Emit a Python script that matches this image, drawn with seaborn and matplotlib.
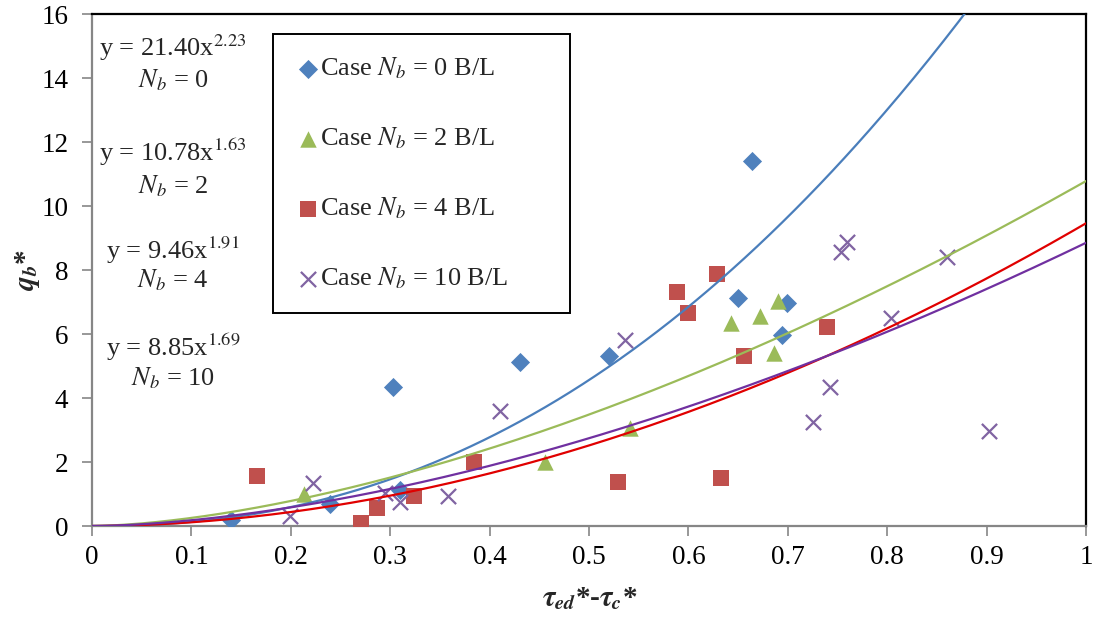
import numpy as np
import pandas as pd
import matplotlib
matplotlib.use("Agg")
import matplotlib.pyplot as plt
import seaborn as sns

# ---- data ----
x_nb0 = [0.140, 0.239, 0.303, 0.310, 0.431, 0.520, 0.650, 0.664, 0.694, 0.699]
y_nb0 = [0.19, 0.69, 4.33, 1.13, 5.14, 5.32, 7.11, 11.41, 5.97, 6.96]
x_nb2 = [0.213, 0.456, 0.541, 0.643, 0.672, 0.686, 0.690]
y_nb2 = [1.00, 2.01, 3.07, 6.35, 6.56, 5.40, 7.04]
x_nb4 = [0.166, 0.271, 0.287, 0.324, 0.384, 0.529, 0.589, 0.600, 0.629, 0.633, 0.656, 0.739]
y_nb4 = [1.57, 0.08, 0.55, 0.95, 1.99, 1.36, 7.32, 6.67, 7.88, 1.49, 5.32, 6.21]
x_nb10 = [0.199, 0.222, 0.295, 0.310, 0.358, 0.410, 0.536, 0.725, 0.742, 0.754, 0.760, 0.804, 0.860, 0.902]
y_nb10 = [0.31, 1.35, 1.04, 0.76, 0.94, 3.60, 5.81, 3.26, 4.35, 8.55, 8.88, 6.51, 8.42, 2.97]

series_labels = [r"Case $N_b$ = 0 B/L", r"Case $N_b$ = 2 B/L",
                 r"Case $N_b$ = 4 B/L", r"Case $N_b$ = 10 B/L"]
fit_coef = [21.40, 10.78, 9.46, 8.85]
fit_exp = [2.23, 1.63, 1.91, 1.69]
fit_nb = [0, 2, 4, 10]
x_ticks = [0, 0.1, 0.2, 0.3, 0.4, 0.5, 0.6, 0.7, 0.8, 0.9, 1]
x_tick_labels = ["0", "0.1", "0.2", "0.3", "0.4", "0.5", "0.6", "0.7", "0.8", "0.9", "1"]
y_ticks = [0, 2, 4, 6, 8, 10, 12, 14, 16]

# ---- style ----
sns.set_style("white")
plt.rcParams["font.family"] = ["Liberation Serif", "DejaVu Serif"]
plt.rcParams["mathtext.fontset"] = "stix"

marker_colors = ["#4F81BD", "#9BBB59", "#C0504D", "#8064A2"]
line_colors = ["#4A7EBB", "#9BBB59", "#E00000", "#7030A0"]
markers = ["D", "^", "s", "x"]
sizes = [95, 140, 140, 120]
gray = "#868686"
fs = 19

fig = plt.figure(figsize=(10.96, 6.20), dpi=100)
ax = fig.add_axes([92 / 1096, 1 - 526 / 620, (1086 - 92) / 1096, (526 - 14) / 620])

xs = [x_nb0, x_nb2, x_nb4, x_nb10]
ys = [y_nb0, y_nb2, y_nb4, y_nb10]
handles = []
for i in range(4):
    df = pd.DataFrame({"x": xs[i], "y": ys[i]})
    kw = dict(linewidth=1.6) if markers[i] == "x" else dict(linewidth=0)
    sns.scatterplot(data=df, x="x", y="y", ax=ax, marker=markers[i],
                    color=marker_colors[i], s=sizes[i], zorder=3,
                    legend=False, **kw)
    handles.append(ax.collections[-1])

# power-law trendlines given by the equations on the chart
xf = np.linspace(0, 1, 400)
for i in range(4):
    dfl = pd.DataFrame({"x": xf, "y": fit_coef[i] * xf ** fit_exp[i]})
    sns.lineplot(data=dfl, x="x", y="y", ax=ax, color=line_colors[i],
                 linewidth=1.6, zorder=4, legend=False)

ax.set_xlim(0, 1)
ax.set_ylim(0, 16)
ax.set_xticks(x_ticks)
ax.set_xticklabels(x_tick_labels)
ax.set_yticks(y_ticks)
ax.tick_params(axis="both", labelsize=19.5, colors="black", length=7,
               width=1.2, direction="out")
ax.tick_params(axis="x", color=gray, pad=7)
ax.tick_params(axis="y", color=gray, pad=10)
ax.xaxis.set_ticks_position("bottom")
ax.yaxis.set_ticks_position("left")

for side in ["top", "right"]:
    ax.spines[side].set_color("black")
    ax.spines[side].set_linewidth(1.6)
for side in ["left", "bottom"]:
    ax.spines[side].set_color(gray)
    ax.spines[side].set_linewidth(1.6)

ax.set_xlabel(r"$\mathbfit{\tau}_{\mathbfit{ed}}$*-$\mathbfit{\tau}_{\mathbfit{c}}$*",
              fontsize=21, fontweight="bold")
ax.set_ylabel(r"$\mathbfit{q}_{\mathbfit{b}}$*", fontsize=21, fontweight="bold")
ax.xaxis.set_label_coords(0.501, -0.142)
ax.yaxis.set_label_coords((28 - 92) / 994, 0.5)
ax.xaxis.label.set_va("center")
ax.yaxis.label.set_va("center")

# equation annotations
eq_y = [(48, 80), (152, 186), (250, 280), (347, 378)]
for i in range(4):
    ty1 = 1 - (eq_y[i][0] - 14) / 512
    ty2 = 1 - (eq_y[i][1] - 14) / 512
    tx = (173 - 92) / 994
    ax.text(tx, ty1, "y = %.2fx$^{%.2f}$" % (fit_coef[i], fit_exp[i]),
            transform=ax.transAxes, ha="center", va="center", fontsize=fs)
    ax.text(tx, ty2, r"$N_b$ = %d" % fit_nb[i], transform=ax.transAxes,
            ha="center", va="center", fontsize=fs)

lx0 = (273 - 92) / 994
lx1 = (570 - 92) / 994
ly_top = (526 - 34) / 512
leg = ax.legend(handles, series_labels, loc="upper left",
                bbox_to_anchor=(lx0, 0, lx1 - lx0, ly_top), mode="expand",
                fontsize=fs, frameon=True, fancybox=False,
                edgecolor="black", framealpha=1, labelspacing=1.68,
                borderpad=0.82, handlelength=1.0, handletextpad=-0.05,
                borderaxespad=0)
leg.get_frame().set_linewidth(1.4)
leg.set_zorder(5)

fig.savefig("out.png", dpi=100)
